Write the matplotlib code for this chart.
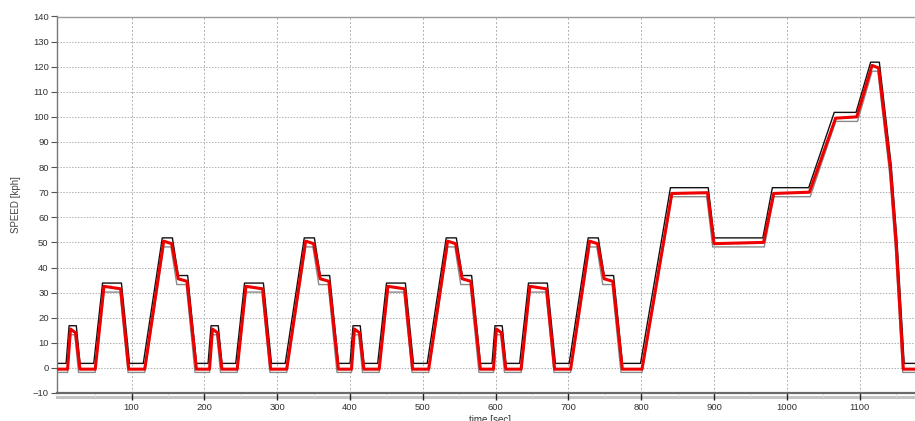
import numpy as np
import matplotlib
matplotlib.use("Agg")
import matplotlib.pyplot as plt
from matplotlib.lines import Line2D
from numpy.lib.stride_tricks import sliding_window_view

plt.rcParams['font.family'] = ['Liberation Sans', 'DejaVu Sans']

# ---- data: NEDC reference profile (ECE-15 x4 + EUDC) ----
ece_t = [0, 11, 15, 23, 28, 49, 61, 85, 96, 117, 143, 155, 163, 176, 188, 195]
ece_v = [0, 0, 15, 15, 0, 0, 32, 32, 0, 0, 50, 50, 35, 35, 0, 0]
eudc_t = [0, 20, 61, 111, 119, 188, 201, 251, 286, 316, 336, 346, 362, 370, 380, 400]
eudc_v = [0, 0, 70, 70, 50, 50, 70, 70, 100, 100, 120, 120, 80, 50, 0, 0]

ece_meas_t = [0, 12, 16, 23, 29, 50, 62, 85, 96, 118, 144, 155, 164, 176, 189, 195]
ece_meas_v = [-0.5, -0.5, 15.5, 14.0, -0.5, -0.5, 32.5, 31.5, -0.5, -0.5, 50.5, 49.5, 35.5, 34.5, -0.5, -0.5]
eudc_meas_t = [0, 21, 62, 111, 120, 188, 202, 251, 287, 316, 337, 346, 362, 370, 380, 400]
eudc_meas_v = [-0.5, -0.5, 69.5, 69.8, 49.5, 50.0, 69.5, 70.0, 99.5, 100.0, 120.5, 119.5, 80.0, 50.0, -0.5, -0.5]

speed_tol = 1.8   # kph
time_tol = 1.0    # s

x_ticks = [100, 200, 300, 400, 500, 600, 700, 800, 900, 1000, 1100]
y_ticks = [-10, 0, 10, 20, 30, 40, 50, 60, 70, 80, 90, 100, 110, 120, 130, 140]

# ---- assemble full cycle ----
ref_t, ref_v, mes_t, mes_v = [], [], [], []
for k in range(4):
    ref_t += [k * 195 + t for t in ece_t]
    ref_v += ece_v
    mes_t += [k * 195 + t for t in ece_meas_t]
    mes_v += ece_meas_v
ref_t += [780 + t for t in eudc_t]
ref_v += eudc_v
mes_t += [780 + t for t in eudc_meas_t]
mes_v += eudc_meas_v

dt = 0.1
tg = np.arange(0, 1180 + dt / 2, dt)
vg = np.interp(tg, ref_t, ref_v)
w = int(round(time_tol / dt))
pad = np.pad(vg, w, mode='edge')
win = sliding_window_view(pad, 2 * w + 1)
upper = win.max(axis=1) + speed_tol
lower = win.min(axis=1) - speed_tol

# ---- figure ----
W, H = 915, 421
fig = plt.figure(figsize=(W / 100, H / 100), dpi=100)
l, r, b, t = 57, 915, 393, 16.5
ax = fig.add_axes([l / W, (H - b) / H, (r - l) / W, (b - t) / H])

ax.plot(tg, lower, color='#8a8a8a', lw=1.0, zorder=3)
ax.plot(tg, upper, color='#111111', lw=1.0, zorder=4)
ax.plot(mes_t, mes_v, color='#ee0000', lw=2.2, zorder=5, solid_joinstyle='round')

ax.set_xlim(-2.5, 1176)
ax.set_ylim(-10, 140)
ax.set_xticks(x_ticks)
ax.set_yticks(y_ticks)
ax.set_xticks(np.arange(50, 1176, 50), minor=True)

for y in y_ticks[1:-1]:
    ax.axhline(y, color='#b0b0b0', lw=0.7, ls=(0, (1.5, 1.5)), zorder=1)
for x in x_ticks:
    ax.axvline(x, color='#b0b0b0', lw=0.7, ls=(0, (2, 2)), zorder=1)

ax.tick_params(axis='both', labelsize=6.8, labelcolor='#333333')
ax.tick_params(axis='y', length=4, width=0.8, color='#555555', pad=2)
ax.tick_params(axis='x', which='major', length=5, width=1.0, color='#222222', pad=2)
ax.tick_params(axis='x', which='minor', length=3, width=0.6, color='#dddddd')

ax.spines['right'].set_visible(False)
ax.spines['top'].set_color('#9a9a9a')
ax.spines['top'].set_linewidth(1.0)
ax.spines['left'].set_color('#777777')
ax.spines['left'].set_linewidth(1.0)
ax.spines['bottom'].set_color('#6a6a6a')
ax.spines['bottom'].set_linewidth(1.6)

fig.add_artist(Line2D([l / W, 1.0], [(H - 396.5) / H] * 2, color='#c4c4c4', lw=2.2,
                      transform=fig.transFigure, zorder=0))

fig.text(16 / W, (H - 205) / H, 'SPEED [kph]', rotation=90, ha='center', va='center',
         fontsize=7, color='#444444')
fig.text(490 / W, (H - 415) / H, 'time [sec]', ha='center', va='top',
         fontsize=7, color='#333333')

fig.savefig('out.png', dpi=100)
